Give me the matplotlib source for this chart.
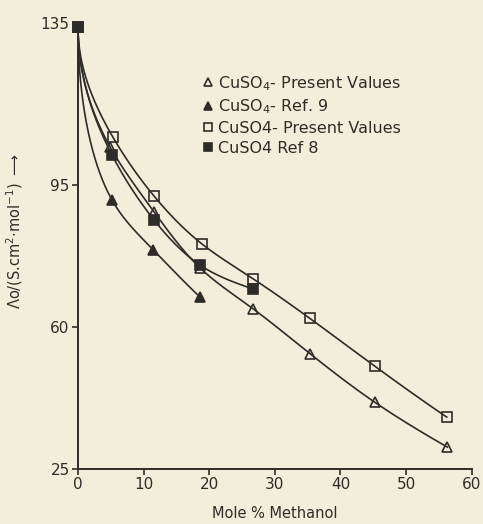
import matplotlib
matplotlib.use("Agg")
import matplotlib.pyplot as plt
import numpy as np

# values
x_tri_open = [0, 4.9, 11.6, 18.6, 26.7, 35.4, 45.2, 56.3]
y_tri_open = [134, 104.4, 88.4, 74.6, 64.5, 53.4, 41.5, 30.4]

x_tri_fill = [0, 5.2, 11.5, 18.6]
y_tri_fill = [134, 91.3, 79.0, 67.4]

x_sq_open = [0, 5.3, 11.6, 18.9, 26.7, 35.3, 45.2, 56.2]
y_sq_open = [134, 106.9, 92.3, 80.5, 71.9, 62.2, 50.4, 37.8]

x_sq_fill = [0, 5.2, 11.6, 18.6, 26.7]
y_sq_fill = [134, 102.4, 86.4, 75.3, 69.4]

labels = ["CuSO$_4$- Present Values", "CuSO$_4$- Ref. 9",
          "CuSO4- Present Values", "CuSO4 Ref 8"]
xticks = [0, 10, 20, 30, 40, 50, 60]
yticks = [25, 60, 95, 135]

paper = "#f3eedb"
ink = "#2e2c28"


def smooth(x, y, n=400):
    # natural cubic spline through the points, drawn in sqrt(x) space so the
    # curve leaves x=0 almost vertically like the hand-drawn original
    u = np.sqrt(np.asarray(x, float))
    y = np.asarray(y, float)
    npts = len(u)
    h = np.diff(u)
    A = np.zeros((npts, npts))
    b = np.zeros(npts)
    A[0, 0] = A[-1, -1] = 1
    for i in range(1, npts - 1):
        A[i, i - 1] = h[i - 1]
        A[i, i] = 2 * (h[i - 1] + h[i])
        A[i, i + 1] = h[i]
        b[i] = 6 * ((y[i + 1] - y[i]) / h[i] - (y[i] - y[i - 1]) / h[i - 1])
    M = np.linalg.solve(A, b)
    us = np.linspace(u[0], u[-1], n)
    idx = np.clip(np.searchsorted(u, us) - 1, 0, npts - 2)
    a = u[idx + 1] - us
    c = us - u[idx]
    hh = h[idx]
    ys = (M[idx] * a**3 + M[idx + 1] * c**3) / (6 * hh) \
        + (y[idx] / hh - M[idx] * hh / 6) * a \
        + (y[idx + 1] / hh - M[idx + 1] * hh / 6) * c
    return us**2, ys


fig = plt.figure(figsize=(4.83, 5.24), dpi=100, facecolor=paper)
ax = fig.add_axes([0.1615, 0.105, 0.815, 0.851], facecolor=paper)

series = [
    (x_tri_open, y_tri_open, "^", "none"),
    (x_tri_fill, y_tri_fill, "^", ink),
    (x_sq_open, y_sq_open, "s", "none"),
    (x_sq_fill, y_sq_fill, "s", ink),
]

handles = []
for (xs, ys, mk, fc), lab in zip(series, labels):
    sx, sy = smooth(xs, ys)
    ax.plot(sx, sy, color=ink, lw=1.2, zorder=2)
    h = ax.plot(xs, ys, ls="none", marker=mk, ms=6.5, mfc=fc, mec=ink,
                mew=1.2, color=ink, label=lab, zorder=3, clip_on=False)[0]
    handles.append(h)

ax.set_xlim(0, 60)
ax.set_ylim(25, 135)
ax.set_xticks(xticks)
ax.set_yticks(yticks)
for s in ["top", "right"]:
    ax.spines[s].set_visible(False)
for s in ["left", "bottom"]:
    ax.spines[s].set_color(ink)
    ax.spines[s].set_linewidth(1.4)
ax.tick_params(direction="out", length=4, width=1.2, colors=ink,
               labelsize=11, pad=2)

ax.set_ylabel(r"$\Lambda$o/(S.cm$^2$$\cdot$mol$^{-1}$) $\longrightarrow$",
              fontsize=10.5, color=ink)
ax.yaxis.set_label_coords(-0.135, 0.534)
ax.set_xlabel("Mole % Methanol", fontsize=10.5, color=ink)
ax.xaxis.set_label_coords(0.5, -0.083)

leg = ax.legend(handles=handles, loc="upper left", bbox_to_anchor=(0.297, 0.904),
                frameon=False, handlelength=0.6, handletextpad=0.35,
                labelspacing=0.3, borderpad=0, fontsize=11.5, markerscale=0.8)
for t in leg.get_texts():
    t.set_color(ink)

fig.savefig("out.png", dpi=100, facecolor=paper)
